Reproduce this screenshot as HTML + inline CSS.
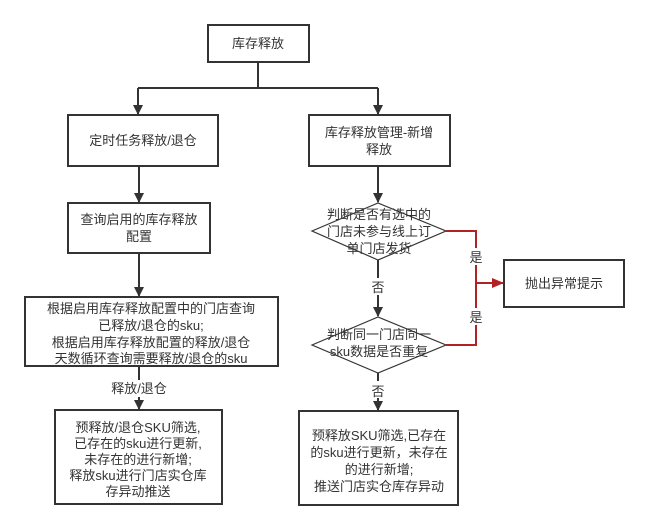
<!DOCTYPE html>
<html><head><meta charset="utf-8"><style>
html,body{margin:0;padding:0;background:#fff}
svg{display:block}
text{font-family:"Liberation Sans","Noto Sans CJK SC",sans-serif;font-size:13px;fill:#333;text-anchor:middle}
</style></head><body>
<svg width="649" height="530" viewBox="0 0 649 530" xmlns="http://www.w3.org/2000/svg">
<defs>
<marker id="a" markerWidth="10" markerHeight="10" refX="9" refY="5" orient="auto" markerUnits="userSpaceOnUse"><path d="M0,0 L10,5 L0,10 z" fill="#333"/></marker>
<marker id="r" markerWidth="12" markerHeight="10" refX="11" refY="5" orient="auto" markerUnits="userSpaceOnUse"><path d="M0,0 L12,5 L0,10 z" fill="#b22222"/></marker>
</defs>
<g fill="none" stroke="#333" stroke-width="2">
<rect x="208" y="25" width="101" height="37"/>
<rect x="68" y="115" width="150" height="51"/>
<rect x="309" y="115" width="141" height="51"/>
<rect x="68" y="203" width="142" height="50"/>
<rect x="25" y="297" width="253" height="69"/>
<rect x="55" y="410" width="167" height="94"/>
<rect x="504" y="260" width="120" height="47"/>
<rect x="299" y="411" width="159" height="94"/>
<path d="M258 62 V88 M138 88 H378 M138 88 V114" marker-end="url(#a)"/>
<path d="M378 88 V114" marker-end="url(#a)"/>
<path d="M139 166 V202" marker-end="url(#a)"/>
<path d="M139 253 V296" marker-end="url(#a)"/>
<path d="M139 366 V409" marker-end="url(#a)"/>
<path d="M378 166 V202" marker-end="url(#a)"/>
<path d="M378 260 V316" marker-end="url(#a)"/>
<path d="M378 373 V410" marker-end="url(#a)"/>
</g>
<g fill="#fff" stroke="#333" stroke-width="1.2">
<polygon points="312,231 378,203 446,231 378,260"/>
<polygon points="312,345 378,317 446,345 378,373"/>
</g>
<g fill="none" stroke="#b22222" stroke-width="2">
<path d="M446 231 H476 V345 H446"/>
<path d="M476 283 H503" marker-end="url(#r)"/>
</g>
<rect x="126" y="380" width="34" height="17" fill="#fff"/>
<rect x="370" y="278" width="16" height="17" fill="#fff"/>
<rect x="370" y="381" width="16" height="17" fill="#fff"/>
<rect x="468" y="248" width="16" height="17" fill="#fff"/>
<rect x="468" y="308" width="16" height="17" fill="#fff"/>
<text x="258" y="48" font-size="14.5">库存释放</text>
<text x="143" y="145">定时任务释放/退仓</text>
<text x="379" y="137">库存释放管理-新增</text>
<text x="379" y="154">释放</text>
<text x="139" y="224">查询启用的库存释放</text>
<text x="139" y="241">配置</text>
<text x="151" y="313">根据启用库存释放配置中的门店查询</text>
<text x="151" y="330">已释放/退仓的sku;</text>
<text x="151" y="347">根据启用库存释放配置的释放/退仓</text>
<text x="151" y="363">天数循环查询需要释放/退仓的sku</text>
<text x="139" y="393">释放/退仓</text>
<text x="138" y="432">预释放/退仓SKU筛选,</text>
<text x="138" y="448">已存在的sku进行更新,</text>
<text x="138" y="464">未存在的进行新增;</text>
<text x="138" y="480">释放sku进行门店实仓库</text>
<text x="138" y="496">存异动推送</text>
<text x="379" y="219">判断是否有选中的</text>
<text x="379" y="236">门店未参与线上订</text>
<text x="379" y="253">单门店发货</text>
<text x="378" y="292">否</text>
<text x="379" y="339">判断同一门店同一</text>
<text x="379" y="356">sku数据是否重复</text>
<text x="378" y="396">否</text>
<text x="476" y="262">是</text>
<text x="476" y="322">是</text>
<text x="564" y="288">抛出异常提示</text>
<text x="379" y="440">预释放SKU筛选,已存在</text>
<text x="379" y="457">的sku进行更新，未存在</text>
<text x="379" y="474">的进行新增;</text>
<text x="379" y="491">推送门店实仓库存异动</text>
</svg>
</body></html>
